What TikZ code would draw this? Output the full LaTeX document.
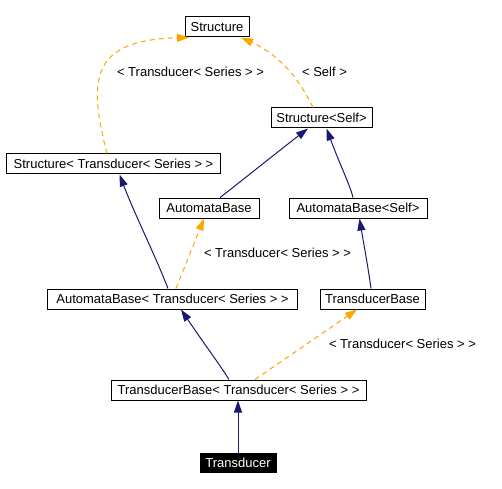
\documentclass[tikz,border=0pt]{standalone}
\usepackage{fontspec}
\setmainfont{Liberation Sans}
\usetikzlibrary{arrows.meta}
\definecolor{navyedge}{HTML}{191970}
\definecolor{orangeedge}{HTML}{FFA500}
\tikzset{
  cls/.style={draw=black, line width=1bp, inner sep=0pt, minimum height=20bp,
    font=\fontsize{13bp}{15bp}\selectfont},
  selfcls/.style={cls, fill=black, text=white, minimum height=19bp},
  inherit/.style={draw=navyedge, line width=1bp, -{Triangle[length=12bp,width=8bp]}},
  templ/.style={draw=orangeedge, line width=1bp, dash pattern=on 5bp off 4bp,
    -{Triangle[length=12bp,width=8bp,fill=orangeedge]}},
  elabel/.style={font=\fontsize{13bp}{15bp}\selectfont, inner sep=0pt}
}
\begin{document}
\begin{tikzpicture}[x=1bp,y=-1bp]
\useasboundingbox[fill=white] (0,0) rectangle (502,489);
\node[cls, minimum width=64bp]  (st)    at (217,27)    {Structure};
\node[cls, minimum width=101bp] (sself) at (321.5,118) {Structure<Self>};
\node[cls, minimum width=213bp] (sts)   at (113.5,164) {Structure< Transducer< Series > >};
\node[cls, minimum width=100bp] (ab)    at (209,208)   {AutomataBase};
\node[cls, minimum width=138bp] (abself) at (358,208)  {AutomataBase<Self>};
\node[cls, minimum width=249bp] (abts)  at (172.5,299) {AutomataBase< Transducer< Series > >};
\node[cls, minimum width=105bp] (tb)    at (372.5,299) {TransducerBase};
\node[cls, minimum width=255bp] (tbts)  at (238.5,390) {TransducerBase< Transducer< Series > >};
\node[selfcls, minimum width=76bp] (tr) at (238,462.5) {Transducer};

% template edges (orange dashed)
\draw[templ] ([xshift=-6.5bp]sts.north) .. controls (88,80) and (90,40) .. ([xshift=-28bp]st.south);
\draw[templ] ([xshift=-8.5bp]sself.north) .. controls (300,80) and (280,55) .. ([xshift=24bp]st.south);
\draw[templ] ([xshift=3.5bp]abts.north) -- ([xshift=-5bp]ab.south);
\draw[templ] ([xshift=16.5bp]tbts.north) -- ([xshift=-15.5bp]tb.south);

% inheritance edges (navy)
\draw[inherit] ([xshift=11bp]ab.north) .. controls (230,190) and (280,150) .. ([xshift=-13.5bp]sself.south);
\draw[inherit] ([xshift=-5bp]abself.north) .. controls (350,185) and (340,165) .. ([xshift=5bp]sself.south);
\draw[inherit] ([xshift=-4.5bp]abts.north) .. controls (155,255) and (135,215) .. ([xshift=6bp]sts.south);
\draw[inherit] ([xshift=-1.5bp]tb.north) .. controls (367,260) and (363,240) .. ([xshift=1.5bp]abself.south);
\draw[inherit] ([xshift=-9.5bp]tbts.north) .. controls (220,365) and (205,345) .. ([xshift=8.5bp]abts.south);
\draw[inherit] (tr.north) -- (tbts.south -| tr.north);

% edge labels
\node[elabel] (l1) at (190.5,72)  {< Transducer< Series > >};
\node[elabel] (l2) at (324.5,72)  {< Self >};
\node[elabel] (l3) at (277.5,253) {< Transducer< Series > >};
\node[elabel] (l4) at (402.5,344) {< Transducer< Series > >};
\end{tikzpicture}
\end{document}
